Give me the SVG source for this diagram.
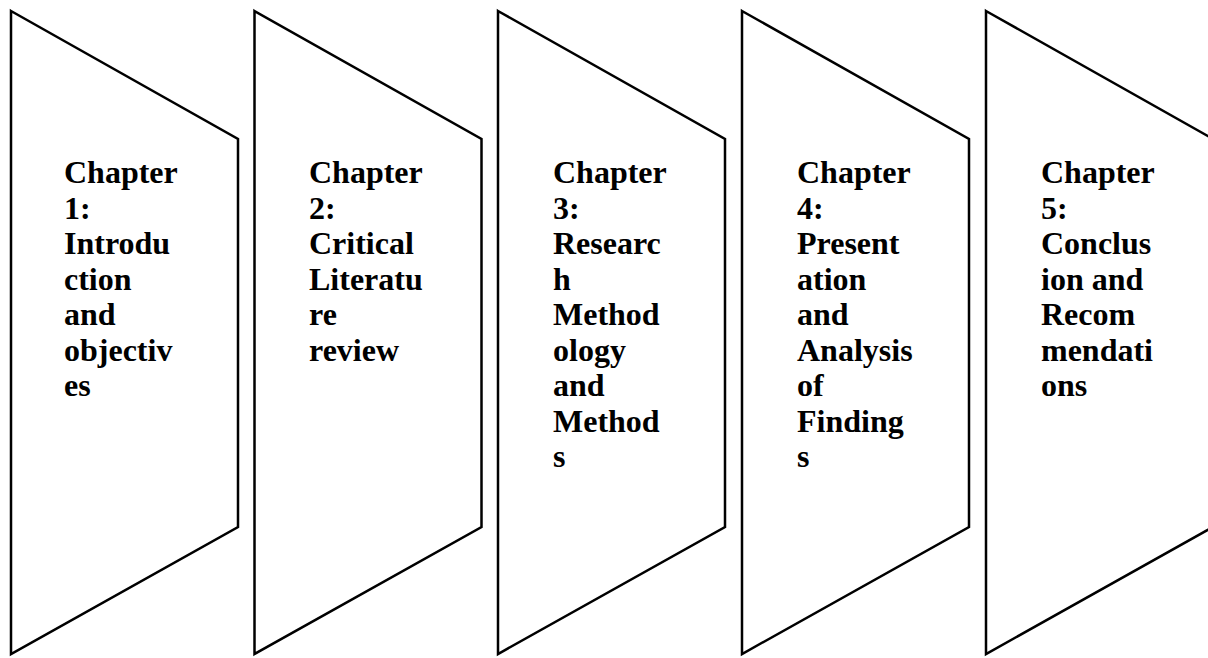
<svg xmlns="http://www.w3.org/2000/svg" width="1208" height="658" viewBox="0 0 1208 658">
<style>
.s{fill:#fff;stroke:#000;stroke-width:2.5;stroke-linejoin:miter}
.t{font-family:"Liberation Serif","Times New Roman",serif;font-weight:bold;font-size:32px;fill:#000}
</style>
<rect width="1208" height="658" fill="#fff"/>
<defs>
<polygon id="shape" points="0,0 227,128 227,516 0,643"/>
</defs>
<g id="node1">
<use href="#shape" class="s" x="11" y="11"/>
<text class="t" y="183"><tspan x="64">Chapter</tspan><tspan x="64" dy="35.5">1:</tspan><tspan x="64" dy="35.5">Introdu</tspan><tspan x="64" dy="35.5">ction</tspan><tspan x="64" dy="35.5">and</tspan><tspan x="64" dy="35.5">objectiv</tspan><tspan x="64" dy="35.5">es</tspan></text>
</g>
<g id="node2">
<use href="#shape" class="s" x="254.5" y="11"/>
<text class="t" y="183"><tspan x="309">Chapter</tspan><tspan x="309" dy="35.5">2:</tspan><tspan x="309" dy="35.5">Critical</tspan><tspan x="309" dy="35.5">Literatu</tspan><tspan x="309" dy="35.5">re</tspan><tspan x="309" dy="35.5">review</tspan></text>
</g>
<g id="node3">
<use href="#shape" class="s" x="498" y="11"/>
<text class="t" y="183"><tspan x="553">Chapter</tspan><tspan x="553" dy="35.5">3:</tspan><tspan x="553" dy="35.5">Researc</tspan><tspan x="553" dy="35.5">h</tspan><tspan x="553" dy="35.5">Method</tspan><tspan x="553" dy="35.5">ology</tspan><tspan x="553" dy="35.5">and</tspan><tspan x="553" dy="35.5">Method</tspan><tspan x="553" dy="35.5">s</tspan></text>
</g>
<g id="node4">
<use href="#shape" class="s" x="742" y="11"/>
<text class="t" y="183"><tspan x="797">Chapter</tspan><tspan x="797" dy="35.5">4:</tspan><tspan x="797" dy="35.5">Present</tspan><tspan x="797" dy="35.5">ation</tspan><tspan x="797" dy="35.5">and</tspan><tspan x="797" dy="35.5">Analysis</tspan><tspan x="797" dy="35.5">of</tspan><tspan x="797" dy="35.5">Finding</tspan><tspan x="797" dy="35.5">s</tspan></text>
</g>
<g id="node5">
<use href="#shape" class="s" x="986" y="11"/>
<text class="t" y="183"><tspan x="1041">Chapter</tspan><tspan x="1041" dy="35.5">5:</tspan><tspan x="1041" dy="35.5">Conclus</tspan><tspan x="1041" dy="35.5">ion and</tspan><tspan x="1041" dy="35.5">Recom</tspan><tspan x="1041" dy="35.5">mendati</tspan><tspan x="1041" dy="35.5">ons</tspan></text>
</g>
<g id="connectors"/>
</svg>
